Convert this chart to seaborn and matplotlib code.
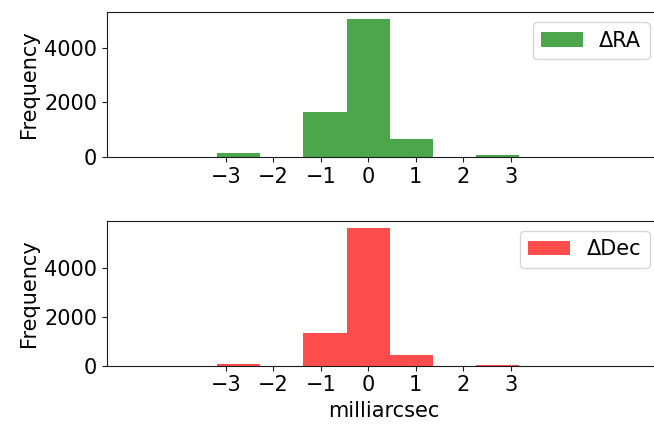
import numpy as np
import pandas as pd
import matplotlib
matplotlib.use("Agg")
import matplotlib.pyplot as plt
from matplotlib.patches import Patch
import seaborn as sns

# histogram bins (milliarcsec) and counts
BIN_EDGES = np.linspace(-5, 5, 12)
RA_COUNTS = [12, 12, 130, 4, 1660, 5050, 645, 4, 60, 18, 12]
DEC_COUNTS = [6, 6, 70, 3, 1350, 5630, 440, 3, 35, 8, 6]
XTICKS = [-3, -2, -1, 0, 1, 2, 3]
YTICKS = [0, 2000, 4000]

sns.set_style("ticks")
plt.rcParams["font.family"] = ["DejaVu Sans"]
plt.rcParams["font.size"] = 15
plt.rcParams["axes.edgecolor"] = "0.1"
plt.rcParams["text.color"] = "black"
plt.rcParams["axes.labelcolor"] = "black"
plt.rcParams["xtick.color"] = "0.1"
plt.rcParams["ytick.color"] = "0.1"
plt.rcParams["xtick.labelcolor"] = "black"
plt.rcParams["ytick.labelcolor"] = "black"

centers = (BIN_EDGES[:-1] + BIN_EDGES[1:]) / 2

fig = plt.figure(figsize=(6.54, 4.25), dpi=100)
ax1 = fig.add_axes([107 / 654, (425 - 157) / 425, (660 - 107) / 654, 145 / 425])
ax2 = fig.add_axes([107 / 654, (425 - 365.7) / 425, (660 - 107) / 654, 145 / 425])

panels = [
    (ax1, RA_COUNTS, "green", "\u0394RA"),
    (ax2, DEC_COUNTS, "red", "\u0394Dec"),
]

for ax, counts, color, label in panels:
    df = pd.DataFrame({"offset": centers, "count": counts})
    sns.histplot(data=df, x="offset", weights="count", bins=list(BIN_EDGES),
                 color=color, alpha=0.7, linewidth=0, ax=ax)
    ymax = max(counts) * 1.05
    ax.set_ylim(0, ymax)
    ax.set_xlim(-5.5, -5.5 + (660 - 107) / 47.5)
    ax.set_xticks(XTICKS)
    ax.set_xticklabels([f"{t}".replace("-", "\u2212") for t in XTICKS])
    ax.set_yticks(YTICKS)
    ax.tick_params(labelsize=15)
    ax.set_ylabel("Frequency", fontsize=15)
    ax.set_xlabel("")
    ax.spines["right"].set_visible(False)
    handle = Patch(facecolor=color, alpha=0.7, linewidth=0)
    ax.legend(handles=[handle], labels=[label], loc="upper right", fontsize=15)

ax2.set_xlabel("milliarcsec", fontsize=15)

fig.savefig("out.png", dpi=100)
